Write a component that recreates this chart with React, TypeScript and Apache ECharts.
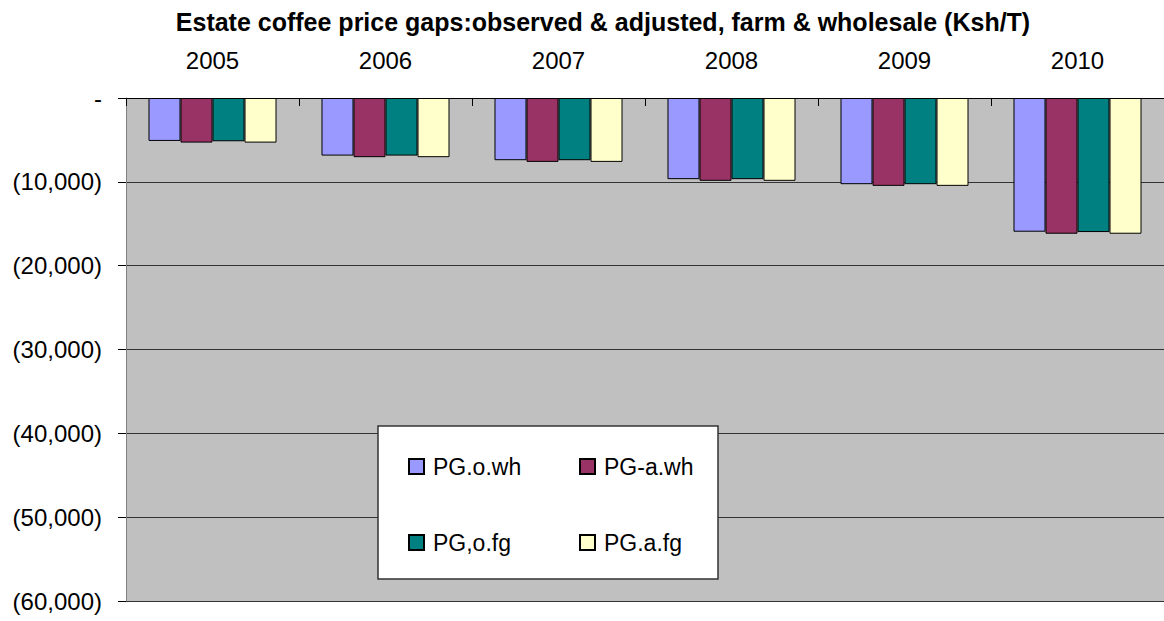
import React, { useEffect, useRef } from "react";
import * as echarts from "echarts";

const years = ["2005", "2006", "2007", "2008", "2009", "2010"];
const seriesNames = ["PG.o.wh", "PG-a.wh", "PG,o.fg", "PG.a.fg"];
const pgOWh = [-5120, -6870, -7420, -9680, -10280, -15950];
const pgAWh = [-5320, -7060, -7620, -9880, -10480, -16190];
const pgOFg = [-5160, -6870, -7420, -9680, -10280, -15990];
const pgAFg = [-5320, -7060, -7620, -9880, -10480, -16190];
const colors = ["#9999FF", "#993366", "#008080", "#FFFFCC"];
const titleText = "Estate coffee price gaps:observed & adjusted, farm & wholesale (Ksh/T)";

const FONT = 'Arial, "Liberation Sans", sans-serif';

export default function App() {
  const ref = useRef<HTMLDivElement>(null);
  useEffect(() => {
    if (!ref.current) return;
    const chart = echarts.init(ref.current, null, { renderer: "svg" });
    const values = [pgOWh, pgAWh, pgOFg, pgAFg];
    const legendPos = [
      { left: 403, top: 450 },
      { left: 574, top: 450 },
      { left: 403, top: 526 },
      { left: 574, top: 526 },
    ];
    chart.setOption({
      animation: false,
      backgroundColor: "#ffffff",
      textStyle: { fontFamily: FONT },
      title: {
        text: titleText,
        left: 598,
        textAlign: "center",
        top: 4,
        textStyle: { fontSize: 25, fontWeight: "bold", color: "#000", fontFamily: FONT },
      },
      grid: {
        left: 126,
        right: 0,
        top: 98,
        bottom: 20,
        show: true,
        backgroundColor: "#C0C0C0",
        borderWidth: 0,
      },
      xAxis: {
        type: "category",
        data: years,
        position: "top",
        axisLine: { show: true, lineStyle: { color: "#000", width: 1 } },
        axisTick: { show: true, inside: true, length: 8, lineStyle: { color: "#000" } },
        axisLabel: { color: "#000", fontSize: 24, fontFamily: FONT, margin: 26 },
        splitLine: { show: false },
      },
      yAxis: {
        type: "value",
        min: -60000,
        max: 0,
        interval: 10000,
        axisLine: { show: true, lineStyle: { color: "#808080", width: 1 } },
        axisTick: { show: true, length: 8, lineStyle: { color: "#000" } },
        axisLabel: {
          color: "#000",
          fontSize: 24,
          fontFamily: FONT,
          margin: 24,
          formatter: (v: number) =>
            v === 0 ? "-" : "(" + Math.abs(v).toLocaleString("en-US") + ")",
        },
        splitLine: { show: true, lineStyle: { color: "#333", width: 1 } },
      },
      legend: seriesNames.map((name, i) => ({
        data: [name],
        left: legendPos[i].left,
        top: legendPos[i].top,
        orient: "horizontal",
        itemWidth: 15,
        itemHeight: 15,
        icon: "rect",
        z: 20,
        selectedMode: false,
        textStyle: { color: "#000", fontSize: 23, fontFamily: FONT, padding: [0, 0, 0, 4] },
      })),
      graphic: [
        {
          type: "rect",
          z: 10,
          shape: { x: 378, y: 426, width: 340, height: 153 },
          style: { fill: "#fff", stroke: "#333", lineWidth: 1.5 },
        },
      ],
      series: seriesNames.map((name, i) => ({
        name,
        type: "bar",
        data: values[i],
        barGap: "0%",
        barCategoryGap: "26%",
        itemStyle: { color: colors[i], borderColor: "#000", borderWidth: 1 },
      })),
    });
    return () => chart.dispose();
  }, []);
  return (
    <div
      ref={ref}
      style={{ position: "fixed", left: 0, top: 0, width: 1164, height: 621 }}
    />
  );
}
